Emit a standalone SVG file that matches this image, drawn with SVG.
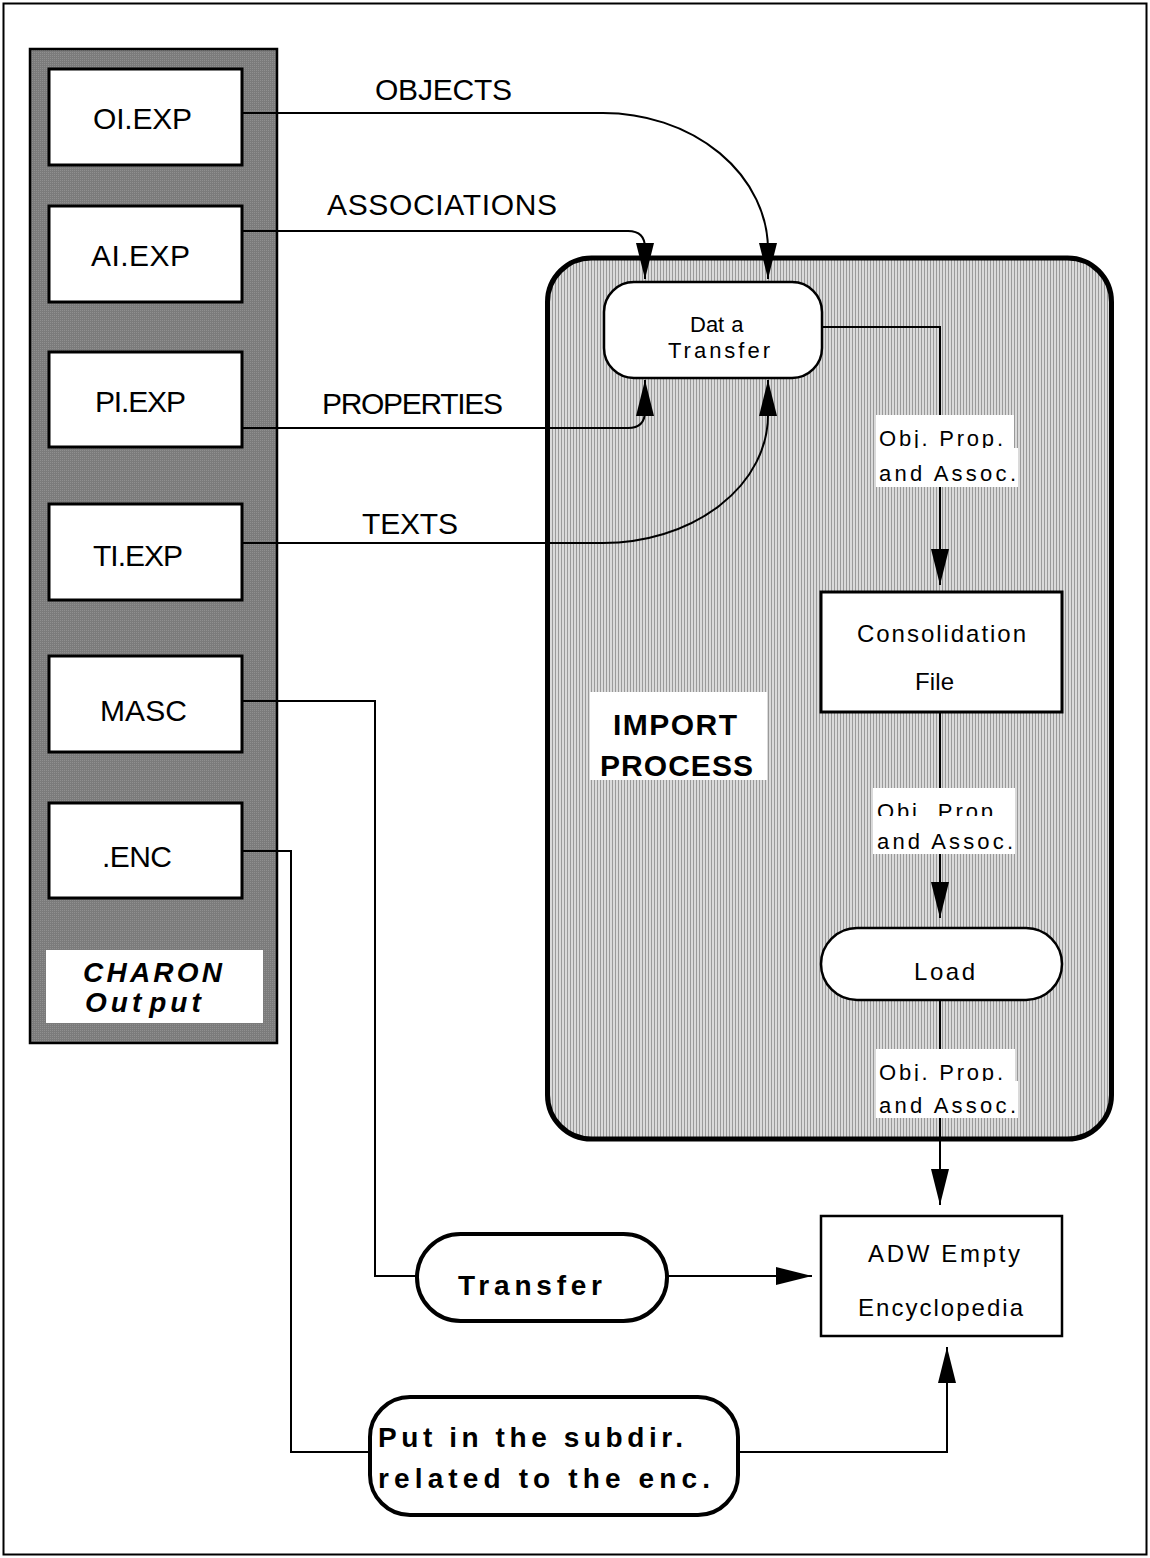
<svg xmlns="http://www.w3.org/2000/svg" width="1150" height="1558" viewBox="0 0 1150 1558">
<defs>
  <pattern id="hatch" width="3" height="3" patternUnits="userSpaceOnUse">
    <rect width="3" height="3" fill="#dadada"/>
    <rect width="1" height="3" fill="#9a9a9a"/>
  </pattern>
  <pattern id="dots" width="2" height="2" patternUnits="userSpaceOnUse">
    <rect width="2" height="2" fill="#7b7b7b"/>
    <rect width="1" height="1" fill="#8f8f8f"/>
  </pattern>
  <marker id="arr" markerUnits="userSpaceOnUse" viewBox="0 0 36 18" refX="36" refY="9" markerWidth="36" markerHeight="18" orient="auto">
    <path d="M0,0 L36,9 L0,18 z" fill="#000"/>
  </marker>
</defs>
<style>
  text{font-family:"Liberation Sans",Arial,sans-serif;fill:#000}
  .box{fill:#fff;stroke:#000;stroke-width:3}
  .rnd{fill:#fff;stroke:#000;stroke-width:2.5}
  .thick{fill:#fff;stroke:#000;stroke-width:4}
  .conn{fill:none;stroke:#000;stroke-width:2}
  .arr{marker-end:url(#arr)}
  .lbl{fill:#fff;stroke:none}
  .f30{font-size:30px}
  .f28{font-size:28px}
  .f24{font-size:24px}
  .f22{font-size:22px}
  .b{font-weight:bold}
  .bi{font-weight:bold;font-style:italic}
</style>

<g id="frame">
  <rect x="3.5" y="3.5" width="1143" height="1551" fill="#fff" stroke="#000" stroke-width="2"/>
</g>

<g id="charon-output">
  <rect x="30" y="49" width="247" height="994" fill="url(#dots)" stroke="#000" stroke-width="2.5"/>
  <rect class="lbl" x="46" y="950" width="217" height="73"/>
  <text class="f28 bi" x="83" y="982" textLength="139">CHARON</text>
  <text class="f28 bi" x="85" y="1012" letter-spacing="4"><tspan>Out</tspan><tspan dx="4">put</tspan></text>
</g>

<g id="import-process">
  <rect x="547.5" y="258" width="564" height="881" rx="44" fill="url(#hatch)" stroke="#000" stroke-width="5"/>
  <rect class="lbl" x="590" y="692" width="177" height="88"/>
  <text class="f30 b" x="613" y="735" textLength="124">IMPORT</text>
  <text class="f30 b" x="600" y="776" textLength="153">PROCESS</text>
</g>

<g id="connectors">
  <path class="conn arr" d="M242,113 H603 A165,137 0 0 1 768,250 V279"/>
  <path class="conn arr" d="M242,231 H628 Q645,231 645,248 V279"/>
  <path class="conn arr" d="M242,428 H628 Q645,428 645,411 V380"/>
  <path class="conn arr" d="M242,543 H603 A165,128 0 0 0 768,415 V380"/>
  <path class="conn arr" d="M822,327 H940 V585"/>
  <path class="conn arr" d="M940,712 V918"/>
  <path class="conn arr" d="M940,1000 V1205"/>
  <path class="conn" d="M242,701 H375 V1276 H417"/>
  <path class="conn arr" d="M667,1276 H812"/>
  <path class="conn" d="M242,851 H291 V1452 H370"/>
  <path class="conn arr" d="M738,1452 H947 V1347"/>

  <text class="f30" x="375" y="100" textLength="137">OBJECTS</text>
  <text class="f30" x="327" y="215" textLength="230">ASSOCIATIONS</text>
  <text class="f30" x="322" y="414" textLength="181">PROPERTIES</text>
  <text class="f30" x="362" y="534" textLength="96">TEXTS</text>

  <rect class="lbl" x="876" y="415" width="138" height="34"/>
  <text class="f22" x="879" y="446" textLength="124">Obj. Prop.</text>
  <rect class="lbl" x="876" y="448" width="142" height="39"/>
  <text class="f22" x="879" y="481" textLength="137">and Assoc.</text>

  <rect class="lbl" x="873" y="788" width="142" height="29"/>
  <text class="f22" x="877" y="819" textLength="125">Obj. Prop.</text>
  <rect class="lbl" x="873" y="816" width="142" height="38"/>
  <text class="f22" x="877" y="849" textLength="136">and Assoc.</text>

  <rect class="lbl" x="876" y="1049" width="139" height="33"/>
  <text class="f22" x="879" y="1080" textLength="124">Obj. Prop.</text>
  <rect class="lbl" x="876" y="1081" width="142" height="37"/>
  <text class="f22" x="879" y="1113" textLength="137">and Assoc.</text>
</g>

<g id="oi-exp">
  <rect class="box" x="49" y="69" width="193" height="96"/>
  <text class="f30" x="93" y="129" textLength="99">OI.EXP</text>
</g>
<g id="ai-exp">
  <rect class="box" x="49" y="206" width="193" height="96"/>
  <text class="f30" x="91" y="266" textLength="99">AI.EXP</text>
</g>
<g id="pi-exp">
  <rect class="box" x="49" y="352" width="193" height="95"/>
  <text class="f30" x="95" y="412" textLength="91">PI.EXP</text>
</g>
<g id="ti-exp">
  <rect class="box" x="49" y="504" width="193" height="96"/>
  <text class="f30" x="93" y="566" textLength="90">TI.EXP</text>
</g>
<g id="masc">
  <rect class="box" x="49" y="656" width="193" height="96"/>
  <text class="f30" x="100" y="721" textLength="87">MASC</text>
</g>
<g id="enc">
  <rect class="box" x="49" y="803" width="193" height="95"/>
  <text class="f30" x="102" y="867" textLength="70">.ENC</text>
</g>

<g id="data-transfer">
  <rect class="rnd" x="604" y="282" width="218" height="96" rx="30"/>
  <text class="f22" x="690" y="332"><tspan>Dat</tspan><tspan dx="7">a</tspan></text>
  <text class="f22" x="668" y="358" textLength="102">Transfer</text>
</g>

<g id="consolidation-file">
  <rect class="box" x="821" y="592" width="241" height="120"/>
  <text class="f24" x="857" y="642" textLength="169">Consolidation</text>
  <text class="f24" x="915" y="690" textLength="39">File</text>
</g>

<g id="load">
  <rect class="rnd" x="821" y="928" width="241" height="72" rx="36"/>
  <text class="f24" x="914" y="980" textLength="61">Load</text>
</g>

<g id="adw-empty-encyclopedia">
  <rect class="box" x="821" y="1216" width="241" height="120" style="stroke-width:2.5"/>
  <text class="f24" x="868" y="1262" textLength="152">ADW Empty</text>
  <text class="f24" x="858" y="1316" textLength="165">Encyclopedia</text>
</g>

<g id="transfer">
  <rect class="thick" x="417" y="1234" width="250" height="87" rx="43.5"/>
  <text class="f28 b" x="458" y="1295" textLength="144">Transfer</text>
</g>

<g id="put-in-subdir">
  <rect class="thick" x="370" y="1397" width="368" height="118" rx="40"/>
  <text class="f28 b" x="378" y="1447" textLength="305">Put in the subdir.</text>
  <text class="f28 b" x="378" y="1488" textLength="332">related to the enc.</text>
</g>
</svg>
